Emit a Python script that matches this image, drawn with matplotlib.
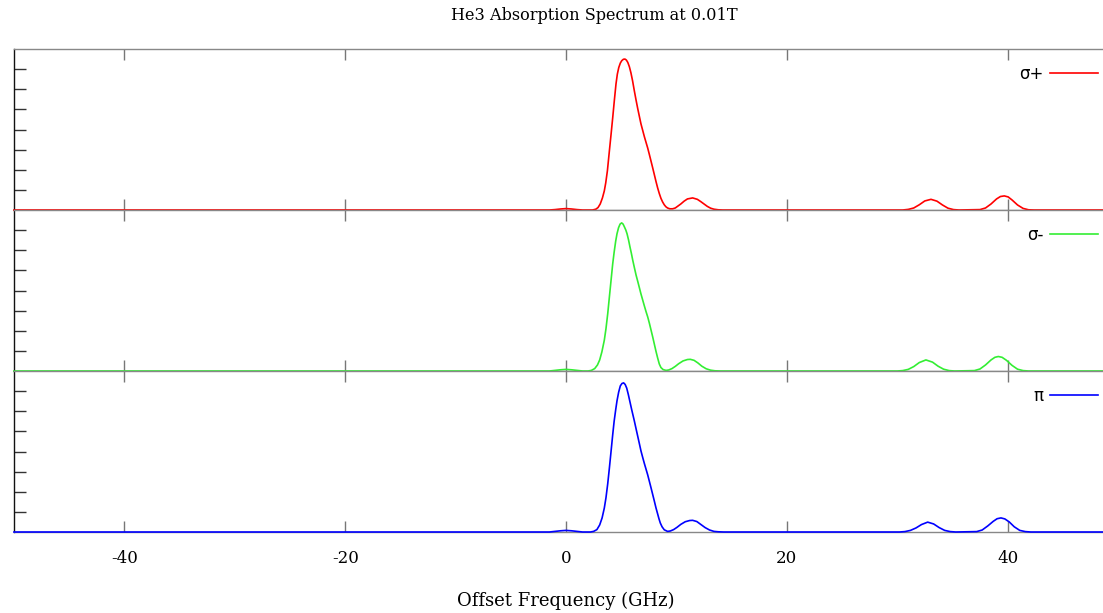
import matplotlib
matplotlib.use("Agg")
import matplotlib.pyplot as plt

plt.rcParams['font.family'] = 'serif'
plt.rcParams['font.serif'] = ['DejaVu Serif']
plt.rcParams['axes.unicode_minus'] = False

# offset frequency (GHz) and absorption (arb. units)
sp_x = [-50, -1.5, -1, -0.5, 0, 0.5, 1, 1.5, 2.4, 2.7, 2.9, 3.1, 3.3, 3.47, 3.6, 3.75,
        3.93, 4.08, 4.23, 4.38, 4.53, 4.65, 4.78, 4.92, 5.05, 5.2, 5.34, 5.47, 5.6,
        5.74, 5.88, 6.03, 6.19, 6.35, 6.5, 6.65, 6.79, 6.95, 7.1, 7.25, 7.4, 7.55, 7.7,
        7.85, 8.0, 8.15, 8.3, 8.45, 8.6, 8.75, 8.9, 9.05, 9.2, 9.4, 9.66, 9.9, 10.15,
        10.4, 10.7, 11.0, 11.47, 11.9, 12.2, 12.5, 12.8, 13.1, 13.4, 13.8, 14.2,
        30.5, 31.0, 31.5, 32.0, 32.5, 33.06, 33.6, 34.1, 34.6, 35.1, 35.6,
        37.5, 38.0, 38.5, 39.0, 39.35, 39.7, 40.05, 40.4, 40.9, 41.4, 41.9, 42.4, 50]
sp_y = [0, 0, 0.02, 0.05, 0.07, 0.05, 0.02, 0, 0, 0.04, 0.12, 0.3, 0.6, 0.95, 1.35, 1.95,
        2.94, 3.75, 4.58, 5.45, 6.27, 6.75, 7.08, 7.3, 7.42, 7.49, 7.5, 7.45, 7.33,
        7.12, 6.82, 6.42, 5.92, 5.45, 5.03, 4.64, 4.28, 3.95, 3.64, 3.36, 3.08, 2.76, 2.43,
        2.1, 1.76, 1.42, 1.1, 0.82, 0.58, 0.4, 0.26, 0.16, 0.1, 0.06, 0.06, 0.1, 0.2,
        0.3, 0.44, 0.55, 0.6, 0.53, 0.42, 0.3, 0.18, 0.09, 0.04, 0.01, 0,
        0, 0.03, 0.1, 0.26, 0.45, 0.53, 0.44, 0.25, 0.09, 0.02, 0,
        0.02, 0.1, 0.3, 0.55, 0.67, 0.7, 0.65, 0.5, 0.25, 0.08, 0.01, 0, 0]

sm_x = [-50, -1.5, -1, -0.5, 0, 0.5, 1, 1.5, 2.0, 2.3, 2.6, 2.85, 3.05, 3.25, 3.47, 3.62,
        3.78, 3.93, 4.08, 4.23, 4.36, 4.5, 4.62, 4.76, 4.9, 5.04, 5.17, 5.3, 5.42, 5.53,
        5.67, 5.8, 5.92, 6.04, 6.2, 6.35, 6.5, 6.65, 6.79, 6.95, 7.1, 7.25, 7.4, 7.55,
        7.7, 7.85, 8.0, 8.15, 8.3, 8.45, 8.6, 8.8, 9.06, 9.3, 9.6, 9.9, 10.2, 10.6,
        11.0, 11.26, 11.6, 11.95, 12.3, 12.7, 13.1, 13.5, 14.0,
        30.0, 30.5, 31.0, 31.5, 32.0, 32.6, 33.2, 33.7, 34.2, 34.7, 35.2,
        37.0, 37.5, 38.0, 38.5, 38.85, 39.16, 39.5, 39.9, 40.4, 40.9, 41.4, 41.9, 50]
sm_y = [0, 0, 0.03, 0.06, 0.08, 0.06, 0.03, 0, 0, 0.03, 0.12, 0.3, 0.55, 0.95, 1.53, 2.1,
        2.85, 3.68, 4.5, 5.32, 5.9, 6.45, 6.82, 7.12, 7.3, 7.36, 7.3, 7.15, 7.0, 6.82,
        6.5, 6.15, 5.85, 5.52, 5.12, 4.76, 4.45, 4.13, 3.83, 3.52, 3.23, 2.95, 2.69, 2.38,
        2.04, 1.7, 1.34, 0.98, 0.65, 0.35, 0.17, 0.07, 0.03, 0.05, 0.12, 0.23, 0.36, 0.5,
        0.57, 0.58, 0.53, 0.4, 0.24, 0.11, 0.04, 0.01, 0,
        0, 0.02, 0.08, 0.22, 0.42, 0.55, 0.44, 0.24, 0.09, 0.02, 0,
        0.02, 0.1, 0.3, 0.55, 0.68, 0.72, 0.68, 0.53, 0.28, 0.09, 0.02, 0, 0]

pi_x = [-50, -1.5, -1, -0.5, 0, 0.5, 1, 1.5, 2.2, 2.5, 2.8, 3.05, 3.27, 3.47, 3.62, 3.78,
        3.93, 4.08, 4.23, 4.36, 4.5, 4.62, 4.77, 4.92, 5.07, 5.22, 5.36, 5.5, 5.65, 5.8,
        5.95, 6.07, 6.19, 6.35, 6.5, 6.65, 6.79, 6.95, 7.1, 7.25, 7.4, 7.55, 7.7, 7.85,
        8.0, 8.15, 8.3, 8.42, 8.54, 8.7, 8.9, 9.2, 9.45, 9.75, 10.05, 10.4, 10.8, 11.2,
        11.47, 11.85, 12.2, 12.6, 13.0, 13.4, 13.8, 14.3,
        30.2, 30.7, 31.2, 31.7, 32.2, 32.76, 33.3, 33.8, 34.3, 34.8, 35.3,
        37.2, 37.7, 38.2, 38.7, 39.05, 39.4, 39.75, 40.15, 40.6, 41.1, 41.6, 42.1, 50]
pi_y = [0, 0, 0.03, 0.06, 0.08, 0.06, 0.03, 0, 0, 0.03, 0.12, 0.35, 0.7, 1.19, 1.7, 2.4,
        3.18, 4.0, 4.83, 5.5, 6.07, 6.52, 6.95, 7.26, 7.38, 7.41, 7.33, 7.15, 6.82, 6.45,
        6.08, 5.8, 5.52, 5.12, 4.75, 4.38, 4.03, 3.7, 3.4, 3.12, 2.84, 2.52, 2.2, 1.87,
        1.54, 1.2, 0.9, 0.66, 0.45, 0.26, 0.11, 0.03, 0.05, 0.12, 0.23, 0.38, 0.51, 0.57,
        0.58, 0.52, 0.38, 0.22, 0.1, 0.03, 0.01, 0,
        0, 0.02, 0.08, 0.2, 0.37, 0.49, 0.4, 0.22, 0.08, 0.02, 0,
        0.02, 0.1, 0.3, 0.53, 0.66, 0.7, 0.65, 0.5, 0.26, 0.08, 0.02, 0, 0]

series = [
    (sp_x, sp_y, '#ff0000', 'σ+'),
    (sm_x, sm_y, '#33ee33', 'σ-'),
    (pi_x, pi_y, '#0000ff', 'π'),
]
x_ticks = [-40, -20, 0, 20, 40]

W, H = 1103, 613
fig = plt.figure(figsize=(W / 100, H / 100), dpi=100)

left_px, right_px = 14, 1118
panel_tops = [49, 210, 371]
panel_h = 161

for i, (xs, ys, col, lab) in enumerate(series):
    top = panel_tops[i]
    ax = fig.add_axes([left_px / W, 1 - (top + panel_h) / H,
                       (right_px - left_px) / W, panel_h / H])
    ax.plot(xs, ys, color=col, lw=1.2, label=lab, clip_on=False, zorder=3,
            solid_joinstyle='round')
    ax.set_xlim(-50, 50)
    ax.set_ylim(0, 8)
    ax.set_xticks(x_ticks)
    ax.set_yticks(range(1, 8))
    ax.set_yticklabels([])
    ax.tick_params(axis='x', direction='in', top=True, bottom=True, length=8,
                   width=1, color='#777777', labelsize=12, pad=13)
    ax.tick_params(axis='y', direction='in', left=True, right=True, length=8.5,
                   width=1, color='#333333')
    if i < 2:
        ax.set_xticklabels([])
    for s in ['top', 'bottom', 'right']:
        ax.spines[s].set_color('#888888')
    ax.spines['left'].set_color('#111111')
    for s in ax.spines.values():
        s.set_linewidth(1.0)
    ax.legend(loc='upper right', bbox_to_anchor=(1098 / W, 1 - (top + 16) / H),
              bbox_transform=fig.transFigure, frameon=False, markerfirst=False,
              handlelength=2.9, handletextpad=0.35, borderaxespad=0, borderpad=0,
              prop={'family': 'DejaVu Sans', 'size': 12})

fig.text(594 / W, 1 - 16 / H, 'He3 Absorption Spectrum at 0.01T',
         ha='center', va='center', fontsize=11.6)
fig.text(566 / W, 1 - 601 / H, 'Offset Frequency (GHz)',
         ha='center', va='center', fontsize=13)

fig.savefig('out.png', dpi=100)
